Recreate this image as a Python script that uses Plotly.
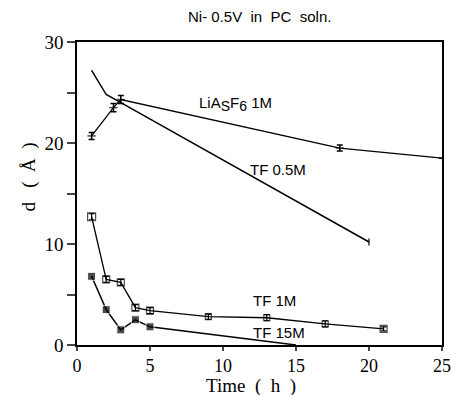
import plotly.graph_objects as go

# LiAsF6 1M
li_x = [1, 2.5, 3, 18, 25]
li_y = [20.7, 23.5, 24.3, 19.5, 18.5]
li_err = [0.35, 0.4, 0.4, 0.3, 0]

# TF 0.5M
tf05_x = [1, 2, 3, 20]
tf05_y = [27.2, 24.8, 24.0, 10.2]

# TF 1M
tf1_x = [1, 2, 3, 4, 5, 9, 13, 17, 21]
tf1_y = [12.7, 6.5, 6.2, 3.7, 3.4, 2.8, 2.7, 2.1, 1.6]
tf1_err = [0.3, 0.3, 0.3, 0.3, 0.3, 0.25, 0.3, 0.3, 0.2]

# TF 1.5M
tf15_x = [1, 2, 3, 4, 5, 15]
tf15_y = [6.8, 3.5, 1.5, 2.5, 1.8, 0]

black = "black"
sans = "Liberation Sans, Arial, sans-serif"
serif = "Liberation Serif, Times New Roman, serif"
fig = go.Figure()

fig.add_trace(go.Scatter(
    x=li_x, y=li_y, mode="lines+markers",
    line=dict(color=black, width=1.3),
    marker=dict(symbol="line-ew-open", size=[6, 6, 6, 6, 0], color=black, line=dict(width=1.5, color=black)),
    error_y=dict(type="data", array=li_err, color=black, thickness=1.5, width=3),
    showlegend=False))

fig.add_trace(go.Scatter(
    x=tf05_x, y=tf05_y, mode="lines",
    line=dict(color=black, width=1.5),
    showlegend=False))
fig.add_trace(go.Scatter(
    x=[tf05_x[-1]], y=[tf05_y[-1]], mode="markers",
    marker=dict(symbol="line-ns-open", size=5, color=black, line=dict(width=1.2, color=black)),
    showlegend=False))

fig.add_trace(go.Scatter(
    x=tf1_x, y=tf1_y, mode="lines+markers",
    line=dict(color=black, width=1.3),
    marker=dict(symbol="square-open", size=[8, 7, 7, 7, 7, 6, 6, 6, 7], color=black, line=dict(width=1.2, color=black)),
    error_y=dict(type="data", array=tf1_err, color=black, thickness=1.2, width=3),
    showlegend=False))

fig.add_trace(go.Scatter(
    x=tf15_x, y=tf15_y, mode="lines+markers",
    line=dict(color=black, width=1.5),
    marker=dict(symbol="square", size=[8, 8, 8, 8, 8, 0], color=black),
    showlegend=False))

lab_font = dict(family=sans, size=15, color=black)
fig.add_annotation(x=8.2, y=23.9,
                   text="LiA<sub><span style='font-size:14px'>S</span></sub>F<sub><span style='font-size:14px'>6</span></sub> 1M",
                   showarrow=False, font=lab_font, xanchor="left")
fig.add_annotation(x=11.7, y=17.4, text="TF 0.5M", showarrow=False, font=lab_font, xanchor="left")
fig.add_annotation(x=11.9, y=4.4, text="TF 1M", showarrow=False, font=lab_font, xanchor="left")
fig.add_annotation(x=11.9, y=1.2, text="TF 15M", showarrow=False, font=lab_font, xanchor="left")

# title and axis titles
fig.add_annotation(xref="paper", yref="paper", x=0.5, y=1.0, yshift=26, text="Ni- 0.5V  in  PC  soln.",
                   showarrow=False, font=dict(family=sans, size=15, color=black), xanchor="center", yanchor="middle")
fig.add_annotation(xref="paper", yref="paper", x=0.478, y=0, yshift=-41, text="Time  (  h  )",
                   showarrow=False, font=dict(family=serif, size=19, color=black), xanchor="center", yanchor="middle")
fig.add_annotation(xref="paper", yref="paper", x=0, xshift=-49, y=0.5, yshift=16, text="d   (  Å  )", textangle=-90,
                   showarrow=False, font=dict(family=serif, size=19, color=black), xanchor="center", yanchor="middle")

tick_font = dict(family="Times New Roman, Liberation Serif, serif", color=black)
fig.update_layout(
    width=451, height=395,
    margin=dict(l=77, r=9, t=42, b=50),
    paper_bgcolor="white", plot_bgcolor="white",
    xaxis=dict(range=[0, 25], tickvals=[0, 5, 10, 15, 20, 25], ticks="outside", ticklen=4, tickwidth=1.5,
               showline=True, linecolor=black, linewidth=1.5, mirror=True, showgrid=False, zeroline=False,
               automargin=False, ticklabeloverflow="allow",
               tickfont=dict(size=18, **tick_font)),
    yaxis=dict(range=[0, 30], tickvals=[0, 5, 10, 15, 20, 25, 30], ticktext=["0", "", "10", "", "20", "", "30"],
               ticks="outside", ticklen=8, tickwidth=1.5, automargin=False,
               showline=True, linecolor=black, linewidth=1.5, mirror=True, showgrid=False, zeroline=False,
               tickfont=dict(size=19, **tick_font)),
)

fig.write_html("out.html", config={"displayModeBar": False},
               post_script="document.body.style.margin='0';document.body.style.overflow='hidden';")
